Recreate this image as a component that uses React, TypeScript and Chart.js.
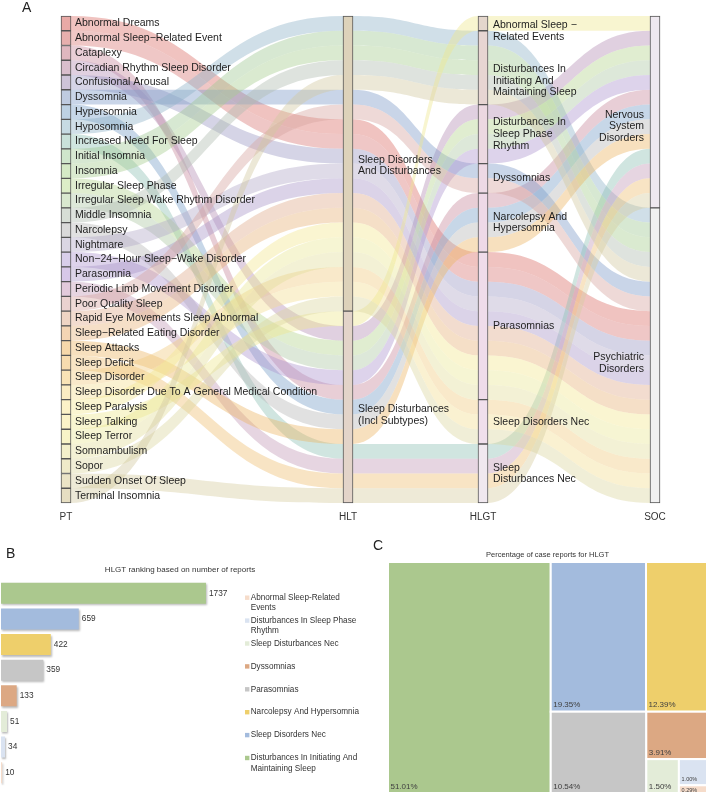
import React, { useEffect, useRef } from "react";
import { Chart, registerables } from "chart.js";

Chart.register(...registerables);

const FONT = "'Liberation Sans', Arial, Helvetica, sans-serif";

// ---------------- Panel A data (alluvial) ----------------
const PT_NAMES = [
  "Abnormal Dreams",
  "Abnormal Sleep\u2212Related Event",
  "Cataplexy",
  "Circadian Rhythm Sleep Disorder",
  "Confusional Arousal",
  "Dyssomnia",
  "Hypersomnia",
  "Hyposomnia",
  "Increased Need For Sleep",
  "Initial Insomnia",
  "Insomnia",
  "Irregular Sleep Phase",
  "Irregular Sleep Wake Rhythm Disorder",
  "Middle Insomnia",
  "Narcolepsy",
  "Nightmare",
  "Non\u221224\u2212Hour Sleep\u2212Wake Disorder",
  "Parasomnia",
  "Periodic Limb Movement Disorder",
  "Poor Quality Sleep",
  "Rapid Eye Movements Sleep Abnormal",
  "Sleep\u2212Related Eating Disorder",
  "Sleep Attacks",
  "Sleep Deficit",
  "Sleep Disorder",
  "Sleep Disorder Due To A General Medical Condition",
  "Sleep Paralysis",
  "Sleep Talking",
  "Sleep Terror",
  "Somnambulism",
  "Sopor",
  "Sudden Onset Of Sleep",
  "Terminal Insomnia",
];

const HLT_NAMES = ["Sleep Disorders And Disturbances", "Sleep Disturbances (Incl Subtypes)"];
const HLT_LINES = [["Sleep Disorders", "And Disturbances"], ["Sleep Disturbances", "(Incl Subtypes)"]];

const HLGT_NAMES = [
  "Abnormal Sleep-Related Events",
  "Disturbances In Initiating And Maintaining Sleep",
  "Disturbances In Sleep Phase Rhythm",
  "Dyssomnias",
  "Narcolepsy And Hypersomnia",
  "Parasomnias",
  "Sleep Disorders Nec",
  "Sleep Disturbances Nec",
];
const HLGT_LINES = [
  ["Abnormal Sleep \u2212", "Related Events"],
  ["Disturbances In", "Initiating And", "Maintaining Sleep"],
  ["Disturbances In", "Sleep Phase", "Rhythm"],
  ["Dyssomnias"],
  ["Narcolepsy And", "Hypersomnia"],
  ["Parasomnias"],
  ["Sleep Disorders Nec"],
  ["Sleep", "Disturbances Nec"],
];

const SOC_NAMES = ["Nervous System Disorders", "Psychiatric Disorders"];
const SOC_LINES = [["Nervous", "System", "Disorders"], ["Psychiatric", "Disorders"]];

// HLGT index of each PT (same order as PT_NAMES)
const PT_HLGT = [5, 5, 4, 2, 5, 3, 4, 1, 7, 1, 1, 2, 2, 1, 4, 5, 2, 5, 7, 3, 5, 5, 4, 7, 6, 6, 5, 0, 5, 5, 6, 7, 1];
// HLT and SOC index of each HLGT (same order as HLGT_NAMES)
const HLGT_HLT = [1, 0, 1, 0, 1, 0, 0, 1];
const HLGT_SOC = [0, 1, 0, 1, 0, 1, 1, 0];

// ---------------- Panel B / C data ----------------
const HLGT_RANK_CATS = [
  "Disturbances In Initiating And Maintaining Sleep",
  "Sleep Disorders Nec",
  "Narcolepsy And Hypersomnia",
  "Parasomnias",
  "Dyssomnias",
  "Sleep Disturbances Nec",
  "Disturbances In Sleep Phase Rhythm",
  "Abnormal Sleep-Related Events",
];
const HLGT_RANK_VALUES = [1737, 659, 422, 359, 133, 51, 34, 10];
const HLGT_RANK_LEGEND = [
  ["Disturbances In Initiating And", "Maintaining Sleep"],
  ["Sleep Disorders Nec"],
  ["Narcolepsy And Hypersomnia"],
  ["Parasomnias"],
  ["Dyssomnias"],
  ["Sleep Disturbances Nec"],
  ["Disturbances In Sleep Phase", "Rhythm"],
  ["Abnormal Sleep-Related", "Events"],
];

// ---------------- styles ----------------
const PT_FILL = [
  "#E8A9A6", "#E6AFAD", "#DFB7BF", "#D9BECC", "#CEC4D8", "#BFCBE0", "#BDD1E3", "#C6DAE3",
  "#C9E1DA", "#CFE6CC", "#D5EAC6", "#DCEDC7", "#D9E8CF", "#D7DED6", "#DADADA", "#DAD6E3",
  "#D8CEEA", "#D7C8E8", "#E2CADB", "#EAD2D0", "#EFD5C4", "#F3D5B4", "#F6D8AA", "#F7DCAF",
  "#F9E3B6", "#FBECC2", "#FCF2C8", "#FBF3C8", "#F8F3C8", "#F3EFCB", "#EFEAC9", "#EBE4C6", "#E6DEC2",
];
const FLOW_FILL = [
  "#DB6F69", "#D97A78", "#C98A9E", "#B48FB5", "#9C99C4", "#7F9BC9", "#7A9FC8", "#8EB3C7",
  "#8FC0B5", "#9FC793", "#A8CC8E", "#B5D48F", "#AFC9A5", "#B0BDB0", "#B8B8B8", "#B3A9C9",
  "#AE97D0", "#A995C9", "#C39AB8", "#D6A59F", "#E0AC8C", "#E8B27A", "#EDB565", "#EEBF73",
  "#F0CB80", "#F2DE92", "#F2E691", "#EFE88F", "#EAE696", "#E3DE9C", "#DCD6A0", "#D6CC9F", "#D2C8A0",
];
const HLT_FILL = ["#DDD2BA", "#E3D4C9"];
const HLGT_FILL = ["#E4D6CC", "#E7D5D2", "#ECD8E1", "#EDD9E5", "#EED9E7", "#EFDCEA", "#F0DFEC", "#F0E8EF"];
const SOC_FILL = ["#EEE8EF", "#F1F1F1"];
const RANK_COLORS = ["#ABC88E", "#A3BBDD", "#EECF6B", "#C6C6C6", "#DCA883", "#E3ECD8", "#DAE3F1", "#F6DCCA"];

// layout (not data)
const AXIS_POS = [0, 282, 417, 589];
const AXIS_TITLES = ["PT", "HLT", "HLGT", "SOC"];
const HLT_DY = [2, 8];
const HLGT_DY = [7.5, 13, 0, 0, 0, 0, 0, 0];
const SOC_DY = [14.5, 8];

const N = PT_NAMES.length;
const PT_HLT = PT_HLGT.map((g) => HLGT_HLT[g]);
const PT_SOC = PT_HLGT.map((g) => HLGT_SOC[g]);
const PT_IDX = PT_NAMES.map((_, i) => i);

function lodeOrder(keys: number[][]): number[] {
  const idx = PT_NAMES.map((_, i) => i);
  idx.sort((a, b) => {
    for (const k of keys) if (k[a] !== k[b]) return k[a] - k[b];
    return a - b;
  });
  const slot = new Array(N).fill(0);
  idx.forEach((p, s) => (slot[p] = s));
  return slot;
}

function strataOf(assign: number[], count: number): number[][] {
  const sizes = new Array(count).fill(0);
  assign.forEach((a) => sizes[a]++);
  let c = 0;
  return sizes.map((s) => {
    const r = [c, c + s];
    c += s;
    return r;
  });
}

function makeAlluvial(canvas: HTMLCanvasElement) {
  const slots = [
    PT_IDX,
    lodeOrder([PT_HLT, PT_HLGT, PT_IDX]),
    lodeOrder([PT_HLGT, PT_IDX]),
    lodeOrder([PT_SOC, PT_HLGT, PT_IDX]),
  ];
  const ptStrata = PT_NAMES.map((_, i) => [i, i + 1]);
  const hltStrata = strataOf(PT_HLT, HLT_NAMES.length);
  const hlgtStrata = strataOf(PT_HLGT, HLGT_NAMES.length);
  const socStrata = strataOf(PT_SOC, SOC_NAMES.length);
  const allStrata = [ptStrata, hltStrata, hlgtStrata, socStrata];
  const allFills = [PT_FILL, HLT_FILL, HLGT_FILL, SOC_FILL];

  const barData: any[] = [];
  const barColors: string[] = [];
  allStrata.forEach((st, a) =>
    st.forEach((r, k) => {
      barData.push({ x: AXIS_POS[a], y: [r[0], r[1]] });
      barColors.push(allFills[a][k]);
    })
  );

  const HALF = 5;
  const flowPlugin = {
    id: "flows",
    beforeDatasetsDraw(chart: any) {
      const { ctx } = chart;
      const x = chart.scales.x;
      const y = chart.scales.y;
      ctx.save();
      ctx.globalAlpha = 0.42;
      for (let p = 0; p < N; p++) {
        ctx.fillStyle = FLOW_FILL[p];
        for (let a = 0; a < 3; a++) {
          const x0 = x.getPixelForValue(AXIS_POS[a]) + HALF;
          const x1 = x.getPixelForValue(AXIS_POS[a + 1]) - HALF;
          const t0 = y.getPixelForValue(slots[a][p]);
          const b0 = y.getPixelForValue(slots[a][p] + 1);
          const t1 = y.getPixelForValue(slots[a + 1][p]);
          const b1 = y.getPixelForValue(slots[a + 1][p] + 1);
          const xm = (x0 + x1) / 2;
          ctx.beginPath();
          ctx.moveTo(x0, t0);
          ctx.bezierCurveTo(xm, t0, xm, t1, x1, t1);
          ctx.lineTo(x1, b1);
          ctx.bezierCurveTo(xm, b1, xm, b0, x0, b0);
          ctx.closePath();
          ctx.fill();
        }
      }
      ctx.restore();
    },
  };

  const labelPlugin = {
    id: "alluvialLabels",
    afterDatasetsDraw(chart: any) {
      const { ctx, chartArea } = chart;
      const x = chart.scales.x;
      const y = chart.scales.y;
      ctx.save();
      ctx.fillStyle = "#1e1e1e";
      ctx.textBaseline = "middle";
      ctx.font = `10.5px ${FONT}`;
      ctx.textAlign = "left";
      const ax = AXIS_POS.map((v) => x.getPixelForValue(v));
      PT_NAMES.forEach((name, i) => {
        ctx.fillText(name, ax[0] + 9, y.getPixelForValue(i + 0.5));
      });
      const drawLines = (lines: string[], px: number, cy: number, lh: number) => {
        lines.forEach((ln, k) => ctx.fillText(ln, px, cy + (k - (lines.length - 1) / 2) * lh));
      };
      hltStrata.forEach((r, k) => {
        const cy = y.getPixelForValue((r[0] + r[1]) / 2) + HLT_DY[k];
        drawLines(HLT_LINES[k], ax[1] + 10, cy, 11.5);
      });
      hlgtStrata.forEach((r, k) => {
        const cy = y.getPixelForValue((r[0] + r[1]) / 2) + HLGT_DY[k];
        drawLines(HLGT_LINES[k], ax[2] + 10, cy, 11.6);
      });
      ctx.textAlign = "right";
      socStrata.forEach((r, k) => {
        const cy = y.getPixelForValue((r[0] + r[1]) / 2) + SOC_DY[k];
        drawLines(SOC_LINES[k], ax[3] - 11, cy, 11.8);
      });
      // axis titles
      ctx.textAlign = "center";
      ctx.font = `10px ${FONT}`;
      ctx.fillStyle = "#333";
      AXIS_TITLES.forEach((t, a) => ctx.fillText(t, ax[a], chartArea.bottom + 14));
      // panel letter
      ctx.textAlign = "left";
      ctx.textBaseline = "alphabetic";
      ctx.font = `14px ${FONT}`;
      ctx.fillStyle = "#222";
      ctx.fillText("A", 22, 12);
      ctx.restore();
    },
  };

  return new Chart(canvas, {
    type: "bar",
    data: {
      datasets: [
        {
          data: barData,
          backgroundColor: barColors,
          borderColor: "#555",
          borderWidth: 1,
          borderSkipped: false,
          barThickness: 10,
          clip: false,
        } as any,
      ],
    },
    options: {
      animation: false,
      responsive: false,
      devicePixelRatio: 1,
      layout: { padding: { left: 66, right: 53, top: 16, bottom: 27 } },
      scales: {
        x: { type: "linear", min: 0, max: AXIS_POS[3], display: false, offset: false } as any,
        y: { type: "linear", min: 0, max: N, reverse: true, display: false },
      },
      plugins: { legend: { display: false }, tooltip: { enabled: false } },
    },
    plugins: [flowPlugin, labelPlugin],
  });
}

function makeRanking(canvas: HTMLCanvasElement) {
  const shadowPlugin = {
    id: "shadow",
    beforeDatasetsDraw(chart: any) {
      const ctx = chart.ctx;
      ctx.save();
      ctx.shadowColor = "rgba(0,0,0,0.28)";
      ctx.shadowBlur = 2;
      ctx.shadowOffsetX = 1;
      ctx.shadowOffsetY = 1.5;
    },
    afterDatasetsDraw(chart: any) {
      chart.ctx.restore();
    },
  };
  const textPlugin = {
    id: "rankText",
    afterDraw(chart: any) {
      const ctx = chart.ctx;
      const meta = chart.getDatasetMeta(0);
      ctx.save();
      ctx.fillStyle = "#333";
      ctx.textBaseline = "middle";
      ctx.textAlign = "left";
      ctx.font = `8.3px ${FONT}`;
      meta.data.forEach((el: any, i: number) => {
        ctx.fillText(String(HLGT_RANK_VALUES[i]), el.x + 3, el.y);
      });
      // title
      ctx.textAlign = "center";
      ctx.font = `8px ${FONT}`;
      ctx.fillText("HLGT ranking based on number of reports", 180, 40);
      // legend (reverse order)
      ctx.textAlign = "left";
      ctx.font = `8.2px ${FONT}`;
      const n = HLGT_RANK_CATS.length;
      for (let k = 0; k < n; k++) {
        const i = n - 1 - k;
        const cy = 67.7 + k * 22.9;
        ctx.fillStyle = RANK_COLORS[i];
        ctx.fillRect(245, cy - 2.2, 4.4, 4.4);
        ctx.fillStyle = "#333";
        HLGT_RANK_LEGEND[i].forEach((ln, j) => ctx.fillText(ln, 250.7, cy + j * 10.4));
      }
      // panel letter
      ctx.textBaseline = "alphabetic";
      ctx.font = `14px ${FONT}`;
      ctx.fillStyle = "#222";
      ctx.fillText("B", 6, 28.3);
      ctx.restore();
    },
  };
  return new Chart(canvas, {
    type: "bar",
    data: {
      labels: HLGT_RANK_CATS,
      datasets: [
        {
          data: HLGT_RANK_VALUES,
          backgroundColor: RANK_COLORS,
          borderWidth: 0,
          categoryPercentage: 1,
          barPercentage: 0.82,
        },
      ],
    },
    options: {
      indexAxis: "y",
      animation: false,
      responsive: false,
      devicePixelRatio: 1,
      layout: { padding: { left: 1, right: 368 - 237, top: 50.5, bottom: 8.5 } },
      scales: {
        x: { display: false, min: 0, max: 2000 },
        y: { display: false },
      },
      plugins: { legend: { display: false }, tooltip: { enabled: false } },
    },
    plugins: [shadowPlugin, textPlugin],
  });
}

type Rect = { x0: number; y0: number; x1: number; y1: number };

function squarify(values: number[], ratio: number, X0: number, Y0: number, X1: number, Y1: number): Rect[] {
  const out: Rect[] = [];
  let x0 = X0, y0 = Y0;
  const x1 = X1, y1 = Y1;
  let value = values.reduce((a, b) => a + b, 0);
  let i0 = 0;
  const n = values.length;
  while (i0 < n) {
    const dx = x1 - x0, dy = y1 - y0;
    let i1 = i0;
    let sum = values[i1++];
    let minV = sum, maxV = sum;
    const alpha = Math.max(dy / dx, dx / dy) / (value * ratio);
    let beta = sum * sum * alpha;
    let minRatio = Math.max(maxV / beta, beta / minV);
    for (; i1 < n; ++i1) {
      const v = values[i1];
      const nMin = Math.min(minV, v), nMax = Math.max(maxV, v);
      const s2 = sum + v;
      beta = s2 * s2 * alpha;
      const nr = Math.max(nMax / beta, beta / nMin);
      if (nr > minRatio) break;
      minRatio = nr; sum = s2; minV = nMin; maxV = nMax;
    }
    const row = values.slice(i0, i1);
    if (dx < dy) {
      const yy = y0 + (dy * sum) / value;
      let cx = x0;
      row.forEach((v) => {
        const w = (dx * v) / sum;
        out.push({ x0: cx, y0, x1: cx + w, y1: yy });
        cx += w;
      });
      y0 = yy;
    } else {
      const xx = x0 + (dx * sum) / value;
      let cy = y0;
      row.forEach((v) => {
        const h = (dy * v) / sum;
        out.push({ x0, y0: cy, x1: xx, y1: cy + h });
        cy += h;
      });
      x0 = xx;
    }
    value -= sum;
    i0 = i1;
  }
  return out;
}

const C_LEFT = 368;

function makeTreemap(canvas: HTMLCanvasElement) {
  const total = HLGT_RANK_VALUES.reduce((a, b) => a + b, 0);
  const treemapPlugin = {
    id: "treemap",
    afterDatasetsDraw(chart: any) {
      const ctx = chart.ctx;
      const x = chart.scales.x;
      const y = chart.scales.y;
      const rects = squarify(
        HLGT_RANK_VALUES,
        1.4,
        x.getPixelForValue(0),
        y.getPixelForValue(1),
        x.getPixelForValue(1),
        y.getPixelForValue(0)
      );
      ctx.save();
      rects.forEach((r, i) => {
        ctx.fillStyle = RANK_COLORS[i];
        ctx.fillRect(r.x0, r.y0, r.x1 - r.x0, r.y1 - r.y0);
        ctx.strokeStyle = "#fff";
        ctx.lineWidth = 2;
        ctx.strokeRect(r.x0, r.y0, r.x1 - r.x0, r.y1 - r.y0);
      });
      ctx.fillStyle = "#404040";
      ctx.textAlign = "left";
      ctx.textBaseline = "middle";
      rects.forEach((r, i) => {
        const pct = ((HLGT_RANK_VALUES[i] / total) * 100).toFixed(2) + "%";
        const h = r.y1 - r.y0;
        if (h < 30) {
          ctx.font = `5.5px ${FONT}`;
          ctx.fillText(pct, r.x0 + 2.7, r.y1 - Math.min(5.7, h * 0.3));
        } else {
          ctx.font = `8px ${FONT}`;
          ctx.fillText(pct, r.x0 + 2.5, r.y1 - 6.5);
        }
      });
      ctx.fillStyle = "#333";
      ctx.textAlign = "center";
      ctx.font = `7.5px ${FONT}`;
      ctx.fillText("Percentage of case reports for HLGT", (x.getPixelForValue(0) + x.getPixelForValue(1)) / 2, 25);
      ctx.textAlign = "left";
      ctx.textBaseline = "alphabetic";
      ctx.font = `14px ${FONT}`;
      ctx.fillStyle = "#222";
      ctx.fillText("C", 373 - C_LEFT, 20);
      ctx.restore();
    },
  };
  return new Chart(canvas, {
    type: "scatter",
    data: { datasets: [{ data: [] }] },
    options: {
      animation: false,
      responsive: false,
      devicePixelRatio: 1,
      layout: { padding: { left: 388 - C_LEFT, right: 1, top: 32, bottom: 1 } },
      scales: {
        x: { display: false, min: 0, max: 1 },
        y: { display: false, min: 0, max: 1 },
      },
      plugins: { legend: { display: false }, tooltip: { enabled: false } },
    },
    plugins: [treemapPlugin],
  });
}

export default function App() {
  const aRef = useRef<HTMLCanvasElement>(null);
  const bRef = useRef<HTMLCanvasElement>(null);
  const cRef = useRef<HTMLCanvasElement>(null);

  useEffect(() => {
    const charts: Chart[] = [];
    if (aRef.current) charts.push(makeAlluvial(aRef.current));
    if (bRef.current) charts.push(makeRanking(bRef.current));
    if (cRef.current) charts.push(makeTreemap(cRef.current));
    return () => charts.forEach((c) => c.destroy());
  }, []);

  return (
    <div style={{ position: "absolute", left: 0, top: 0, width: 708, height: 794, background: "#fff", overflow: "hidden" }}>
      <canvas ref={aRef} width={708} height={530} style={{ position: "absolute", left: 0, top: 0, width: 708, height: 530 }} />
      <canvas ref={bRef} width={C_LEFT} height={264} style={{ position: "absolute", left: 0, top: 530, width: C_LEFT, height: 264 }} />
      <canvas ref={cRef} width={708 - C_LEFT} height={264} style={{ position: "absolute", left: C_LEFT, top: 530, width: 708 - C_LEFT, height: 264 }} />
    </div>
  );
}
